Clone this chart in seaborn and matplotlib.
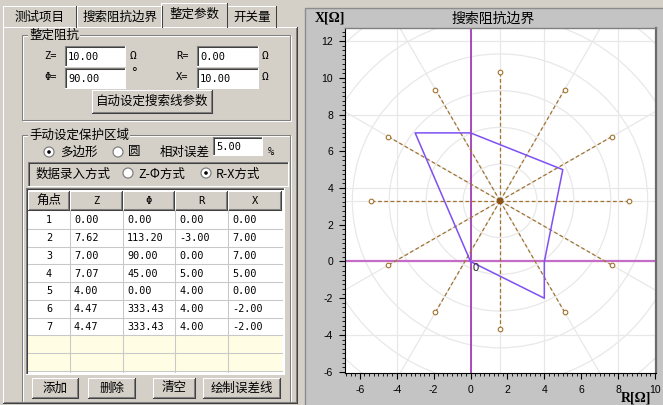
import numpy as np
import pandas as pd
import matplotlib
matplotlib.use("Agg")
import matplotlib.pyplot as plt
import seaborn as sns
from matplotlib.patches import Rectangle, Circle
from matplotlib.ticker import MultipleLocator

# ---------------------------------------------------------
# Data
# ---------------------------------------------------------
POINT_NO = [1, 2, 3, 4, 5, 6, 7]
Z_VALS = [0.00, 7.62, 7.00, 7.07, 4.00, 4.47, 4.47]
PHI_VALS = [0.00, 113.20, 90.00, 45.00, 0.00, 333.43, 333.43]
R_VALS = [0.00, -3.00, 0.00, 5.00, 4.00, 4.00, 4.00]
X_VALS = [0.00, 7.00, 7.00, 5.00, 0.00, -2.00, -2.00]

SET_Z, SET_PHI, SET_R, SET_X = 10.00, 90.00, 0.00, 10.00
REL_ERR = 5.00

SEARCH_CENTER = (1.6, 3.3)
SEARCH_RADIUS = 7.0
SEARCH_ANGLES = [0, 30, 60, 90, 120, 150, 180, 210, 240, 270, 300, 330]
GRID_RADII = [2, 4, 6, 8, 10, 12, 14, 16]
GRID_X = [-4, 0, 4, 8]
GRID_Y = [-4, 0, 4, 8, 12]

X_TICKS = [-6, -4, -2, 0, 2, 4, 6, 8, 10]
Y_TICKS = [-6, -4, -2, 0, 2, 4, 6, 8, 10, 12]

TAB_LABELS = ["测试项目", "搜索阻抗边界", "整定参数", "开关量"]
TABLE_HEADER = ["角点", "Z", "Φ", "R", "X"]
BUTTONS = ["添加", "删除", "清空", "绘制误差线"]

# ---------------------------------------------------------
# Style
# ---------------------------------------------------------
sns.set_style("white")
CJK = ["Noto Sans CJK SC", "DejaVu Sans"]
MONO = ["DejaVu Sans Mono"]
plt.rcParams["font.family"] = CJK
plt.rcParams["axes.unicode_minus"] = False

FACE = "#d4d0c8"
LIGHT = "#ffffff"
SHADOW = "#808080"
DARK = "#404040"
GRID_COLOR = "#e8e8e8"
BROWN = "#a2732f"
POLY_COLOR = "#7f50f2"

W, H = 663, 405
fig = plt.figure(figsize=(W / 100, H / 100), dpi=100)
fig.patch.set_facecolor(FACE)

ui = fig.add_axes([0, 0, 1, 1], zorder=0)
ui.set_xlim(0, W)
ui.set_ylim(H, 0)
ui.axis("off")


def seg(x0, y0, x1, y1, c, lw=0.75):
    ui.plot([x0, x1], [y0, y1], color=c, lw=lw, solid_capstyle="projecting")


def rect(x0, y0, x1, y1, fc, ec="none", lw=0.75):
    ui.add_patch(Rectangle((x0, y0), x1 - x0, y1 - y0, fc=fc, ec=ec, lw=lw))


def raised(x0, y0, x1, y1, face=FACE):
    rect(x0, y0, x1, y1, face)
    seg(x0, y0, x1, y0, LIGHT)
    seg(x0, y0, x0, y1, LIGHT)
    seg(x0, y1, x1, y1, DARK)
    seg(x1, y0, x1, y1, DARK)
    seg(x0 + 1, y1 - 1, x1 - 1, y1 - 1, SHADOW)
    seg(x1 - 1, y0 + 1, x1 - 1, y1 - 1, SHADOW)


def sunken(x0, y0, x1, y1, face="white"):
    rect(x0, y0, x1, y1, face)
    seg(x0, y0, x1, y0, SHADOW)
    seg(x0, y0, x0, y1, SHADOW)
    seg(x0 + 1, y0 + 1, x1 - 1, y0 + 1, DARK)
    seg(x0 + 1, y0 + 1, x0 + 1, y1 - 1, DARK)
    seg(x0, y1, x1, y1, LIGHT)
    seg(x1, y0, x1, y1, LIGHT)


def etched(x0, y0, x1, y1):
    rect(x0 + 1, y0 + 1, x1 + 1, y1 + 1, "none", LIGHT)
    rect(x0, y0, x1, y1, "none", SHADOW)


def text(x, y, s, size=9, ha="left", va="center", family=CJK, **kw):
    ui.text(x, y, s, fontsize=size, ha=ha, va=va, family=family, color="black", **kw)


def group(x0, y0, x1, y1, title):
    etched(x0, y0, x1, y1)
    text(x0 + 7, y0, title, bbox=dict(fc=FACE, ec="none", pad=0.6))


def radio(x, y, checked):
    ui.add_patch(Circle((x, y), 5, fc="white", ec=SHADOW, lw=0.9))
    if checked:
        ui.add_patch(Circle((x, y), 1.8, fc="black", ec="none"))


def edit(x0, y0, x1, y1, value):
    sunken(x0, y0, x1, y1)
    text(x0 + 3, (y0 + y1) / 2 + 0.5, f"{value:.2f}", size=7.5, family=MONO)


# ---------------------------------------------------------
# Left panel: tab control
# ---------------------------------------------------------
raised(3, 27, 297, 403)
tab_x = [3, 77, 163, 227, 277]
for i, lab in enumerate(TAB_LABELS):
    x0, x1 = tab_x[i], tab_x[i + 1]
    if i == 2:
        continue
    rect(x0, 6, x1, 27, FACE)
    seg(x0, 6, x1 - 1, 6, LIGHT)
    seg(x0, 6, x0, 27, LIGHT)
    seg(x1 - 1, 6, x1 - 1, 27, DARK)
    text((x0 + x1) / 2, 17, lab, ha="center")
x0, x1 = tab_x[2] - 2, tab_x[3] + 1
rect(x0, 3, x1, 28.5, FACE)
seg(x0, 3, x1 - 1, 3, LIGHT)
seg(x0, 3, x0, 27, LIGHT)
seg(x1 - 1, 3, x1 - 1, 27, DARK)
text((x0 + x1) / 2, 14, TAB_LABELS[2], ha="center")

# group 1
group(22, 35, 290, 120, "整定阻抗")
text(44, 56, "Z=", size=7.5, family=MONO)
text(44, 77, "Φ=", size=7.5, family=MONO)
text(176, 56, "R=", size=7.5, family=MONO)
text(176, 77, "X=", size=7.5, family=MONO)
edit(65, 46, 125, 66, SET_Z)
edit(65, 68, 125, 88, SET_PHI)
edit(197, 46, 258, 66, SET_R)
edit(197, 68, 258, 88, SET_X)
text(130, 56, "Ω", size=8, family=MONO)
text(130, 73, "°", size=9, family=MONO)
text(262, 56, "Ω", size=8, family=MONO)
text(262, 77, "Ω", size=8, family=MONO)
raised(92, 90, 212, 113)
text(152, 101.5, "自动设定搜索线参数", ha="center")

# group 2
group(22, 135, 290, 402, "手动设定保护区域")
radio(49, 152, True)
text(60, 152, "多边形")
radio(118, 152, False)
text(128, 152, "圆")
text(160, 152, "相对误差")
edit(213, 137, 262, 155, REL_ERR)
text(268, 152, "%", size=7.5, family=MONO)

sunken(28, 162, 288, 186, face=FACE)
text(36, 174, "数据录入方式")
radio(128, 173, False)
text(138, 174, "Z-Φ方式")
radio(206, 173, True)
text(216, 174, "R-X方式")

# table
cols = [28, 70, 123, 175, 228, 282]
row_h = 17.75
row0 = 211
sunken(26, 188, 284, 374)
rect(28, 190, 282, 372, "white")
n_rows = len(POINT_NO)
rect(28, row0 + n_rows * row_h, 282, 372, "#fffde3")
for i, lab in enumerate(TABLE_HEADER):
    raised(cols[i], 191, cols[i + 1] - 1, 209.5)
    fam = CJK if i == 0 else MONO
    text((cols[i] + cols[i + 1]) / 2, 200.5, lab, ha="center", size=9 if i == 0 else 7.5, family=fam)
for k in range(n_rows + 2):
    y = row0 + (k + 1) * row_h
    seg(28, y, 282, y, "#c8c8c8")
for c in cols[1:-1]:
    seg(c, 210, c, 372, "#c8c8c8")
for r in range(n_rows):
    yc = row0 + r * row_h + row_h / 2 + 0.5
    text((cols[0] + cols[1]) / 2, yc, str(POINT_NO[r]), ha="center", size=7.3, family=MONO)
    for j, vals in enumerate([Z_VALS, PHI_VALS, R_VALS, X_VALS]):
        text(cols[j + 1] + 4, yc, f"{vals[r]:.2f}", size=7.3, family=MONO)

btn_x = [(32, 78), (88, 135), (153, 195), (203, 280)]
for (bx0, bx1), lab in zip(btn_x, BUTTONS):
    raised(bx0, 378, bx1, 398)
    text((bx0 + bx1) / 2, 388, lab, ha="center")

# ---------------------------------------------------------
# Right panel: chart frame
# ---------------------------------------------------------
rect(305, 8, 664, 406, "#c4c4c4", ec="#8c8c8c", lw=1.0)
text(493, 19, "搜索阻抗边界", size=10, ha="center")
text(315, 18, "X[Ω]", size=10, family=["Liberation Serif"], fontweight="bold")
text(621, 398, "R[Ω]", size=10, family=["Liberation Serif"], fontweight="bold")

ax = fig.add_axes([345 / W, (H - 373) / H, (656 - 345) / W, (373 - 28) / H], zorder=1)
ax.set_facecolor("white")
ax.set_xlim(-6.8, 10.05)
ax.set_ylim(-6.07, 12.71)

cx, cy = SEARCH_CENTER
# cartesian grid
for gx in GRID_X:
    ax.axvline(gx, color=GRID_COLOR, lw=0.9, zorder=0.5)
for gy in GRID_Y:
    ax.axhline(gy, color=GRID_COLOR, lw=0.9, zorder=0.5)
# polar grid around search center
for r in GRID_RADII:
    ax.add_patch(Circle((cx, cy), r, fill=False, ec=GRID_COLOR, lw=0.9, zorder=0.5))
for a in SEARCH_ANGLES:
    t = np.deg2rad(a)
    ax.plot([cx, cx + 30 * np.cos(t)], [cy, cy + 30 * np.sin(t)], color=GRID_COLOR, lw=0.9, zorder=0.5)

# R / X axes
ax.axvline(0, color="#9a2fb0", lw=1.2, zorder=2)
ax.axhline(0, color="#c56cc9", lw=1.6, zorder=2)

# search lines
rows = []
for a in SEARCH_ANGLES:
    t = np.deg2rad(a)
    rows.append({"angle": a, "R": cx, "X": cy})
    rows.append({"angle": a, "R": cx + SEARCH_RADIUS * np.cos(t), "X": cy + SEARCH_RADIUS * np.sin(t)})
spokes = pd.DataFrame(rows)
sns.lineplot(data=spokes, x="R", y="X", units="angle", estimator=None, sort=False,
             color=BROWN, lw=0.9, linestyle=(0, (3, 2)), ax=ax, zorder=3)
ends = spokes.iloc[1::2]
sns.scatterplot(data=ends, x="R", y="X", marker="o", s=11, color="white",
                edgecolor=BROWN, linewidth=0.8, ax=ax, zorder=4)
sns.scatterplot(x=[cx], y=[cy], s=24, color="#8a5418", edgecolor="none", ax=ax, zorder=5)

# protection polygon
sns.lineplot(x=R_VALS + [R_VALS[0]], y=X_VALS + [X_VALS[0]], sort=False, estimator=None,
             color=POLY_COLOR, lw=1.1, ax=ax, zorder=4)
ax.text(0.12, -0.08, "0", ha="left", va="top", fontsize=8, family="Liberation Sans", zorder=6)

ax.set_xlabel("")
ax.set_ylabel("")
ax.set_xticks(X_TICKS, labels=[str(t) for t in X_TICKS], fontfamily="Liberation Sans")
ax.set_yticks(Y_TICKS, labels=[str(t) for t in Y_TICKS], fontfamily="Liberation Sans")
ax.xaxis.set_minor_locator(MultipleLocator(0.25))
ax.yaxis.set_minor_locator(MultipleLocator(0.25))
ax.tick_params(which="major", direction="out", length=4, width=0.8, colors="black",
               labelsize=7.5, pad=4.5, bottom=True, left=True)
ax.tick_params(which="minor", direction="out", length=2.2, width=0.6, colors="black",
               bottom=True, left=True)
for side in ["left", "bottom"]:
    ax.spines[side].set_color("black")
    ax.spines[side].set_linewidth(0.8)
ax.spines["top"].set_color("#808080")
ax.spines["top"].set_linewidth(1.0)
ax.spines["right"].set_color("#6a6a6a")
ax.spines["right"].set_linewidth(1.6)

fig.savefig("out.png", dpi=100, facecolor=FACE)
